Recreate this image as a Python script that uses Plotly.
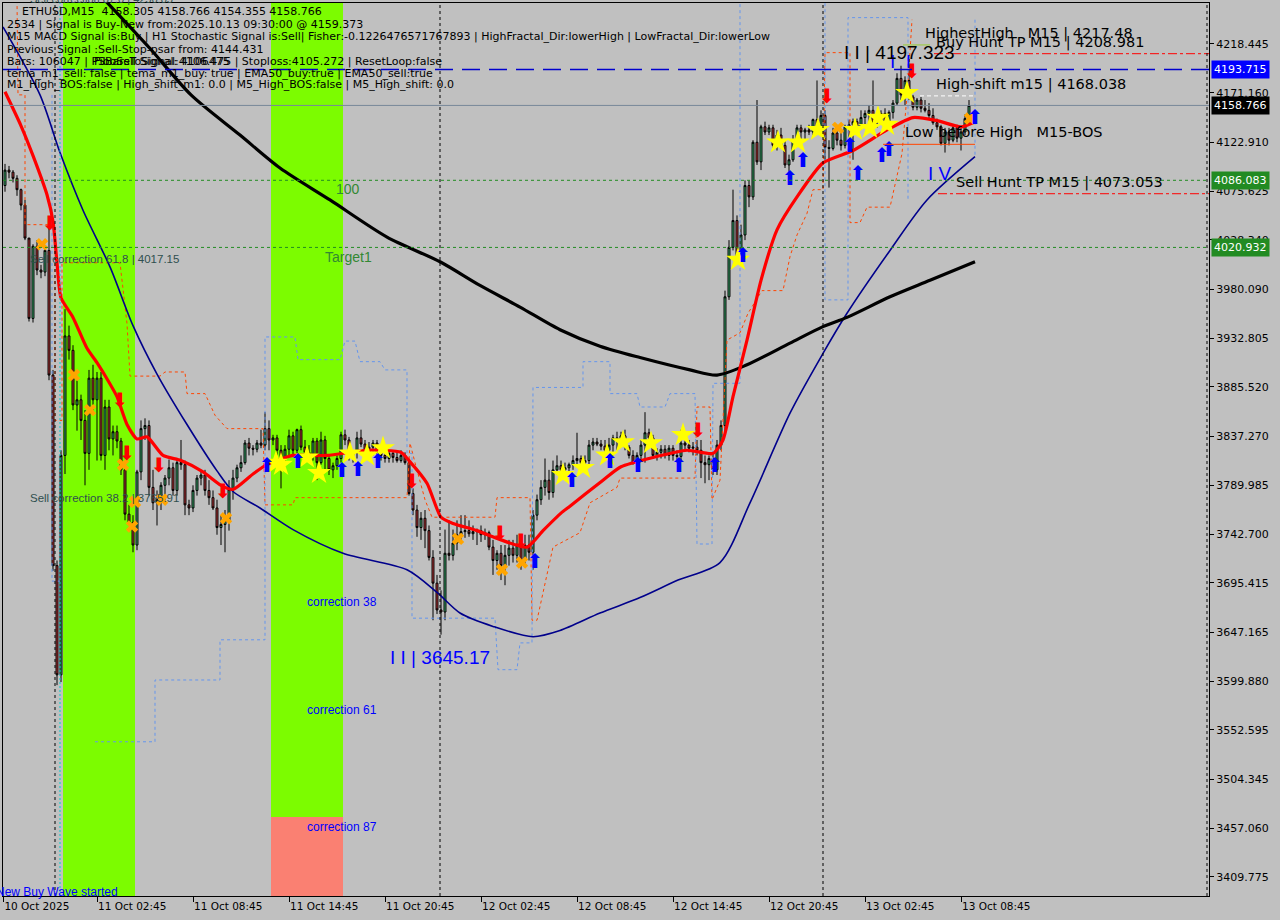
import plotly.graph_objects as go

# ---------------- DATA (15-minute bars, index 0 = 10 Oct 2025 21:00) ----------------
first_open = 4081
highs = [4102, 4100, 4096, 4091, 4078, 4067, 4028, 4024, 4028, 4004, 4023, 4045, 3902, 3717, 3824, 3961, 3945, 3926, 3892, 3878,
         3863, 3902, 3907, 3900, 3900, 3873, 3873, 3848, 3848, 3836, 3809, 3771, 3761, 3805, 3853, 3855, 3853, 3805, 3785, 3793,
         3800, 3815, 3812, 3816, 3834, 3814, 3776, 3790, 3800, 3805, 3805, 3795, 3785, 3776, 3761, 3766, 3795, 3805, 3810, 3819,
         3834, 3836, 3829, 3834, 3844, 3861, 3853,
         3839, 3839, 3829, 3829, 3844, 3842, 3845, 3848, 3834, 3829, 3836, 3836, 3842, 3838, 3819, 3812, 3819, 3842, 3844, 3837,
         3824, 3842, 3844, 3834, 3832, 3834, 3834, 3828, 3825, 3824, 3824, 3824, 3824, 3822, 3814, 3787, 3771, 3764, 3766, 3751,
         3727, 3703, 3688, 3747, 3756, 3747, 3756, 3761, 3761, 3756, 3751, 3748, 3751, 3748, 3746, 3737, 3727, 3732, 3732, 3737,
         3737, 3742, 3737, 3742, 3742, 3766, 3781, 3795, 3816, 3805, 3814, 3819,
         3814, 3812, 3812, 3819, 3841, 3819, 3819, 3834, 3836, 3836, 3834, 3834, 3836, 3839, 3842, 3842, 3844, 3829, 3824, 3822,
         3834, 3861, 3845, 3839, 3826, 3829, 3829, 3829, 3829, 3824, 3844, 3836, 3834, 3832, 3834, 3834, 3819, 3819, 3822, 3834,
         3853,
         3979, 4028, 4077, 4052, 4043, 4086, 4086, 4125, 4164, 4140, 4143, 4140, 4140, 4135, 4137, 4125, 4111, 4130, 4140, 4140,
         4137, 4140, 4146, 4183, 4154, 4154, 4125, 4137, 4137, 4132, 4140, 4145, 4146, 4146, 4154, 4154, 4159, 4183, 4149, 4154,
         4156, 4154, 4164, 4190, 4197.3, 4187, 4193, 4169, 4166, 4167, 4164, 4161, 4156, 4146, 4140, 4137, 4137, 4140, 4140, 4137,
         4150, 4164]
lows = [4075, 4088, 4084, 4071, 4057, 4028, 3949, 3948, 3994, 3991, 3993, 3892, 3707, 3596, 3599, 3801, 3912, 3863, 3843, 3834,
        3790, 3805, 3863, 3814, 3814, 3805, 3824, 3819, 3826, 3800, 3756, 3751, 3725, 3727, 3795, 3834, 3780, 3766, 3751, 3766,
        3776, 3790, 3780, 3780, 3805, 3761, 3761, 3764, 3780, 3790, 3780, 3771, 3766, 3742, 3732, 3725, 3746, 3776, 3793, 3803,
        3810, 3819, 3819, 3822, 3826, 3824, 3824,
        3829, 3819, 3787, 3812, 3819, 3819, 3819, 3824, 3814, 3816, 3814, 3795, 3810, 3805, 3800, 3797, 3805, 3812, 3829, 3814,
        3812, 3816, 3827, 3814, 3816, 3819, 3816, 3814, 3812, 3812, 3812, 3812, 3812, 3810, 3780, 3761, 3740, 3737, 3729, 3717,
        3659, 3665, 3645, 3659, 3717, 3717, 3727, 3737, 3739, 3740, 3737, 3732, 3735, 3737, 3727, 3703, 3708, 3698, 3693, 3712,
        3715, 3715, 3708, 3712, 3717, 3708, 3756, 3771, 3780, 3776, 3778, 3800,
        3800, 3797, 3803, 3805, 3810, 3805, 3809, 3810, 3824, 3828, 3824, 3819, 3819, 3819, 3824, 3829, 3824, 3816, 3810, 3810,
        3814, 3812, 3829, 3816, 3814, 3816, 3816, 3814, 3814, 3812, 3814, 3824, 3822, 3819, 3819, 3797, 3792, 3795, 3800, 3800,
        3824,
        3839, 3970, 4018, 4009, 4004, 4028, 4060, 4067, 4101, 4096, 4130, 4130, 4117, 4115, 4117, 4098, 4093, 4104, 4123, 4125,
        4125, 4130, 4130, 4135, 4135, 4106, 4079, 4115, 4120, 4115, 4117, 4125, 4106, 4130, 4135, 4140, 4142, 4137, 4137, 4140,
        4137, 4140, 4146, 4159, 4164, 4159, 4164, 4154, 4154, 4152, 4152, 4146, 4140, 4135, 4120, 4113, 4120, 4123, 4123, 4115,
        4130, 4142]
closes = [4096, 4094, 4088, 4077, 4062, 4030, 3952, 4022, 3999, 3997, 4018, 3897, 3712, 3606, 3819, 3935, 3921, 3868, 3873, 3853,
          3821, 3894, 3873, 3894, 3819, 3866, 3835, 3842, 3833, 3805, 3762, 3754, 3732, 3803, 3845, 3848, 3788, 3773, 3776, 3790,
          3797, 3807, 3785, 3812, 3810, 3771, 3768, 3785, 3797, 3800, 3785, 3778, 3768, 3749, 3752, 3756, 3786, 3797, 3807, 3812,
          3831, 3826, 3825, 3831, 3829, 3845, 3834,
          3836, 3824, 3816, 3825, 3838, 3824, 3844, 3827, 3822, 3819, 3833, 3812, 3834, 3816, 3805, 3809, 3816, 3839, 3834, 3819,
          3822, 3836, 3830, 3822, 3827, 3831, 3822, 3819, 3816, 3821, 3817, 3814, 3819, 3812, 3782, 3766, 3749, 3758, 3746, 3720,
          3695, 3669, 3667, 3724, 3722, 3734, 3742, 3745, 3746, 3743, 3745, 3746, 3742, 3744, 3730, 3717, 3724, 3712, 3722, 3729,
          3722, 3732, 3717, 3732, 3725, 3761, 3776, 3788, 3795, 3783, 3805, 3809,
          3805, 3807, 3810, 3814, 3816, 3812, 3814, 3829, 3832, 3830, 3828, 3824, 3829, 3836, 3834, 3838, 3827, 3819, 3812, 3819,
          3829, 3841, 3836, 3819, 3822, 3825, 3819, 3826, 3819, 3818, 3831, 3829, 3826, 3827, 3824, 3812, 3810, 3816, 3805, 3829,
          3848,
          3973, 4021, 4047, 4012, 4033, 4081, 4070, 4123, 4104, 4138, 4133, 4137, 4120, 4130, 4120, 4101, 4106, 4125, 4137, 4133,
          4135, 4133, 4145, 4138, 4149, 4118, 4117, 4132, 4125, 4120, 4138, 4140, 4143, 4137, 4147, 4151, 4154, 4142, 4144, 4151,
          4142, 4152, 4161, 4185, 4169, 4183, 4167, 4157, 4164, 4156, 4154, 4149, 4142, 4138, 4122, 4133, 4125, 4137, 4127, 4133,
          4146, 4158.766]

# moving averages (sampled)
ema200_i = [23.75, 36.25, 46.5, 58.75, 68.75, 81.25, 95.5, 108.75, 118.75, 128.75, 138.75, 148.75, 158.75, 171.25, 178, 185.5,
            196.25, 204.5, 210.5, 221.25, 231.25, 242.5]
ema200_p = [4266, 4214, 4169, 4130, 4098, 4067, 4031, 4007, 3984, 3963, 3941, 3925, 3914, 3902, 3897, 3907, 3928, 3944, 3953,
            3973, 3989, 4007]
ema50_i = [-0.5, 8.75, 13.75, 19.5, 26.25, 32, 38, 45.5, 53, 57, 63.75, 72, 84.5, 100.5, 108, 113.75, 122, 132, 138.75, 148.75,
           158.75, 168.25, 178.75, 186.25, 196.25, 204.5, 210.5, 221.25, 230.5, 242.5]
ema50_p = [4235, 4169, 4113, 4057, 4002, 3945, 3898, 3849, 3804, 3784, 3768, 3747, 3724, 3708, 3686, 3666, 3653, 3643, 3649, 3666,
           3681, 3698, 3715, 3773, 3860, 3918, 3957, 4018, 4067, 4109]
ema20_i = [0, 4, 7, 10.5, 12, 13, 14, 17, 20.5, 23, 26, 28, 30.5, 33, 35.5, 39.5, 44, 49.5, 54, 57, 62, 65.5, 72, 80.5, 90.5, 99,
           101, 105.5, 109, 112, 118, 124, 130.5, 134.5, 139, 141, 149.5, 154, 162, 170.5, 177, 179.5, 182, 185.5, 189, 193,
           198, 204.5, 212, 220.5, 227, 233, 239, 242]
ema20_p = [4172, 4139, 4110, 4072, 4046, 4006, 3972, 3953, 3923, 3909, 3890, 3876, 3849, 3835, 3837, 3819, 3814, 3803, 3790, 3786,
           3801, 3810, 3819, 3819, 3824, 3822, 3814, 3792, 3759, 3753, 3746, 3737, 3730, 3746, 3763, 3769, 3795, 3808, 3817, 3824,
           3821, 3834, 3876, 3931, 3989, 4038, 4070, 4103, 4115, 4135, 4147, 4144, 4138, 4142]

# step envelopes
env_red_i = [3, 3.25, 5, 5, 12.5, 12.5, 14.25, 14.25, 28.75, 30.5, 31.25, 38.75, 40, 45, 45.5, 50, 52.5, 55.5, 64.5, 65, 72, 72.5,
             100.5, 101.25, 102.5, 105, 106.75, 122.5, 123, 131.25, 131.75, 133, 137, 143.75, 146.25, 149.5, 153, 153.75, 172.5,
             173, 176.25, 176.75, 178.75, 180.5, 183.75, 185.75, 189.25, 194.5, 196.25, 198, 200.5, 202, 204.5, 205, 211.25,
             211.25, 213.75, 215.5, 221.25, 224.25, 225.75, 226.75]
env_red_p = [4261, 4169, 4169, 4043, 4043, 3853, 3853, 4006, 4006, 3947, 3896, 3896, 3900, 3900, 3879, 3879, 3858, 3845, 3845, 3771,
             3771, 3778, 3778, 3831, 3812, 3776, 3759, 3759, 3778, 3778, 3659, 3659, 3730, 3744, 3773, 3780, 3788, 3797, 3797, 3866,
             3866, 3776, 3795, 3931, 3938, 3957, 3979, 3979, 4012, 4033, 4054, 4077, 4077, 4210, 4210, 4045, 4045, 4060, 4060, 4112,
             4180, 4242]
env_blue_i = [11.75, 11.75, 13.75, None, 22.5, 37.5, 37.5, 53.75, 53.75, 65, 65, 72.5, 73.25, 83.75, 85, 87.5, 88.75, 93.75, 95,
              100.5, 100.5, 101.75, 101.75, 122.5, 123.25, 128, 128.75, 131.75, 132, 144.5, 144.5, 151.25, 151.25, 158, 158.75,
              165, 166.25, 172.5, 173, 176.75, 177, 183.75, 183.75, None, 205, 205, 210.75, 210.75, 225.75, 225.75, None, 242.5,
              242.5]
env_blue_p = [4169, 3697, 3697, None, 3541, 3541, 3601, 3601, 3640, 3640, 3934, 3934, 3912, 3912, 3930, 3930, 3910, 3910, 3902,
              3902, 3821, 3821, 3661, 3661, 3611, 3611, 3637, 3637, 3885, 3885, 3910, 3910, 3879, 3879, 3866, 3866, 3879, 3879,
              3733, 3733, 3889, 3889, 4261, None, 4258, 3970, 3970, 4244, 4244, 4067, None, 4242, 4109]

# signal markers
star_i = [67.75, 69, 75.5, 78.5, 86.25, 90.5, 94.5, 139.5, 144.5, 150.5, 154.5, 161.5, 169.5, 183.25, 193.25, 198.25, 203.25,
          212.5, 216.25, 218.25, 220.5, 225.5]
star_p = [3812, 3810, 3817, 3802, 3821, 3819, 3826, 3800, 3807, 3819, 3832, 3831, 3839, 4009, 4123, 4123, 4135, 4135, 4137, 4147,
          4140, 4171]
buy_i = [65.5, 73.25, 84.25, 88.25, 93.25, 132.5, 141.75, 151.25, 158.25, 168.5, 177.5, 184.5, 196.25, 199.5, 211.25, 213.25,
         219.25, 221, 242.5]
buy_p = [3808, 3812, 3803, 3804, 3812, 3715, 3793, 3812, 3808, 3808, 3808, 4012, 4086, 4104, 4118, 4091, 4109, 4115, 4146]
sell_i = [11.25, 28.75, 30.5, 38.5, 54.5, 101.75, 123.75, 129, 173.25, 205.5, 226.75]
sell_p = [4043, 3871, 3819, 3808, 3783, 3792, 3742, 3734, 3842, 4166, 4190]
cross_i = [9.25, 17.25, 21.25, 29.5, 31.75, 32.5, 39.25, 55.25, 113.25, 124.25, 129.25, 208.25, 241.25]
cross_p = [4024, 3897, 3863, 3810, 3750, 3774, 3776, 3758, 3738, 3708, 3715, 4137, 4146]

# horizontal levels
level_ema_blue = 4193.715
level_bid = 4158.766
level_green = [4086.083, 4020.932]
level_buy_tp = 4208.981
level_sell_tp = 4073.053
level_highest = 4217.48
level_high_shift = 4168.038
level_low_before = 4121.0
vline_idx = [12.5, 108.75, 204.5, 300.5]
cyan_idx = 13.75

# zones
zone1 = (14.5, 32.5)
zone2 = (66.5, 84.5)
zone2_split = 3468.0

# axis ticks
x_tick_idx = [-0.4, 23, 47, 71, 95, 119, 143, 167, 191, 215, 239]
x_tick_text = ["10 Oct 2025", "11 Oct 02:45", "11 Oct 08:45", "11 Oct 14:45", "11 Oct 20:45", "12 Oct 02:45",
               "12 Oct 08:45", "12 Oct 14:45", "12 Oct 20:45", "13 Oct 02:45", "13 Oct 08:45"]
y_tick_vals = [4218.445, 4171.160, 4122.910, 4075.625, 4028.340, 3980.090, 3932.805, 3885.520, 3837.270, 3789.985,
               3742.700, 3695.415, 3647.165, 3599.880, 3552.595, 3504.345, 3457.060, 3409.775]
y_range = [3391.3, 4258.2]
x_range = [-0.5, 301]

# ---------------- FIGURE ----------------
BG = "#C0C0C0"
opens = [first_open] + closes[:-1]
idx = list(range(len(closes)))

fig = go.Figure()

fig.add_trace(go.Scatter(x=env_red_i, y=env_red_p, mode="lines", connectgaps=False,
                         line=dict(color="#FF4500", width=1, dash="3px,3px"), hoverinfo="skip"))
fig.add_trace(go.Scatter(x=env_blue_i, y=env_blue_p, mode="lines", connectgaps=False,
                         line=dict(color="#6495ED", width=1, dash="3px,3px"), hoverinfo="skip"))

fig.add_trace(go.Candlestick(
    x=idx, open=opens, high=highs, low=lows, close=closes,
    increasing=dict(fillcolor="#3CB371", line=dict(color="black", width=1)),
    decreasing=dict(fillcolor="#C0393B", line=dict(color="black", width=1)),
    whiskerwidth=0, hoverinfo="skip"))

fig.add_trace(go.Scatter(x=ema50_i, y=ema50_p, mode="lines", line=dict(color="#00008B", width=1.6, shape="spline", smoothing=0.8),
                         hoverinfo="skip"))
fig.add_trace(go.Scatter(x=ema200_i, y=ema200_p, mode="lines", line=dict(color="#000000", width=3.2, shape="spline", smoothing=0.8),
                         hoverinfo="skip"))
fig.add_trace(go.Scatter(x=ema20_i, y=ema20_p, mode="lines", line=dict(color="#FF0000", width=3.2, shape="spline", smoothing=0.6),
                         hoverinfo="skip"))

fig.add_trace(go.Scatter(x=cross_i, y=cross_p, mode="markers",
                         marker=dict(symbol="x", size=11, color="#FFA500", line=dict(width=0)), hoverinfo="skip"))
fig.add_trace(go.Scatter(x=star_i, y=star_p, mode="markers",
                         marker=dict(symbol="star", size=18, color="#FFFF00", line=dict(width=0)), hoverinfo="skip"))
fig.add_trace(go.Scatter(x=buy_i, y=buy_p, mode="text", text=["⬆"] * len(buy_i), textposition="middle center",
                         textfont=dict(family="DejaVu Sans", size=20, color="#0000FF"), hoverinfo="skip"))
fig.add_trace(go.Scatter(x=sell_i, y=sell_p, mode="text", text=["⬇"] * len(sell_i), textposition="middle center",
                         textfont=dict(family="DejaVu Sans", size=20, color="#FF0000"), hoverinfo="skip"))

shapes = []
# zones
shapes.append(dict(type="rect", xref="x", yref="paper", x0=zone1[0], x1=zone1[1], y0=0, y1=1,
                   fillcolor="#7CFC00", line=dict(width=0), layer="below"))
shapes.append(dict(type="rect", xref="x", yref="y", x0=zone2[0], x1=zone2[1], y0=zone2_split, y1=y_range[1],
                   fillcolor="#7CFC00", line=dict(width=0), layer="below"))
shapes.append(dict(type="rect", xref="x", yref="y", x0=zone2[0], x1=zone2[1], y0=y_range[0], y1=zone2_split,
                   fillcolor="#FA8072", line=dict(width=0), layer="below"))
# horizontal levels
shapes.append(dict(type="line", xref="paper", yref="y", x0=0, x1=1, y0=level_bid, y1=level_bid,
                   line=dict(color="#778899", width=1)))
shapes.append(dict(type="line", xref="paper", yref="y", x0=0, x1=1, y0=level_ema_blue, y1=level_ema_blue,
                   line=dict(color="#0000CD", width=1.6, dash="18px,9px")))
for lv in level_green:
    shapes.append(dict(type="line", xref="paper", yref="y", x0=0, x1=1, y0=lv, y1=lv,
                       line=dict(color="#228B22", width=1, dash="3px,3px")))
shapes.append(dict(type="line", xref="x", yref="y", x0=232.25, x1=x_range[1], y0=level_buy_tp, y1=level_buy_tp,
                   line=dict(color="#FF0000", width=1, dash="dashdot")))
shapes.append(dict(type="line", xref="x", yref="y", x0=233.25, x1=x_range[1], y0=level_sell_tp, y1=level_sell_tp,
                   line=dict(color="#FF0000", width=1, dash="dashdot")))
shapes.append(dict(type="line", xref="x", yref="y", x0=224.5, x1=231.25, y0=level_highest, y1=level_highest,
                   line=dict(color="#9ACD32", width=1)))
shapes.append(dict(type="line", xref="x", yref="y", x0=228.75, x1=242.5, y0=level_high_shift, y1=level_high_shift,
                   line=dict(color="#FFFFFF", width=1, dash="4px,3px")))
shapes.append(dict(type="line", xref="x", yref="y", x0=219.5, x1=242.5, y0=level_low_before, y1=level_low_before,
                   line=dict(color="#FF4500", width=1)))
for vx in vline_idx:
    shapes.append(dict(type="line", xref="x", yref="paper", x0=vx, x1=vx, y0=0, y1=1,
                       line=dict(color="#000000", width=1, dash="3px,3px")))
shapes.append(dict(type="line", xref="x", yref="paper", x0=cyan_idx, x1=cyan_idx, y0=0, y1=1,
                   line=dict(color="#00CED1", width=1, dash="2px,2px")))

W, H = 1280, 920
ML, MR, MT, MB = 3, 71, 3, 24
PW, PH = W - ML - MR, H - MT - MB


def px(text, x, y, size=10, color="black", family="DejaVu Sans", anchor="left"):
    return dict(xref="paper", yref="paper", x=(x - ML) / PW, y=1 - (y - MT) / PH, xanchor=anchor, yanchor="middle",
                text=text, showarrow=False, font=dict(family=family, size=size, color=color))


def dt(text, i, p, size=12, color="black", family="Liberation Sans", anchor="left"):
    return dict(xref="x", yref="y", x=i, y=p, xanchor=anchor, yanchor="middle", text=text, showarrow=False,
                font=dict(family=family, size=size, color=color))


anns = []
header = [
    ("ETHUSD,M15  4158.305 4158.766 4154.355 4158.766", 20, 11),
    ("2534 | Signal is Buy-New from:2025.10.13 09:30:00 @ 4159.373", 5, 25),
    ("M15 MACD Signal is:Buy | H1 Stochastic Signal is:Sell| Fisher:-0.1226476571767893 | HighFractal_Dir:lowerHigh | LowFractal_Dir:lowerLow", 5, 37),
    ("Previous Signal :Sell-Stop-psar from: 4144.431", 5, 49),
    ("Bars: 106047 | PSBarsToSignal:4106.475 | Stoploss:4105.272 | ResetLoop:false", 5, 61),
    ("FiboSell Signal: 4106475", 92, 61),
    ("tema_m1_sell: false | tema_m1_buy: true | EMA50_buy:true | EMA50_sell:true", 5, 73),
    ("M1_High_BOS:false | High_shift_m1: 0.0 | M5_High_BOS:false | M5_High_shift: 0.0", 5, 85),
]
for t, x, y in header:
    anns.append(px(t, x, y, size=11))
anns.append(px("Sell correction 87.0 | 4256.85", 28, -1, size=11, color="#2F4F4F", family="Liberation Sans"))
anns.append(px("New Buy Wave started", -6, 892, size=12, color="#0000FF", family="Liberation Sans"))

# chart labels
anns.append(dt("100", 85.75, 4078, size=14, color="#338833", anchor="center"))
anns.append(dt("Target1", 85.75, 4012, size=14, color="#338833", anchor="center"))
anns.append(dt("Sell correction 61.8 | 4017.15", 5.75, 4010, size=11.5, color="#2F4F4F"))
anns.append(dt("Sell correction 38.2 | 3765.91", 5.75, 3778, size=11.5, color="#2F4F4F"))
anns.append(dt("correction 38", 84.25, 3677, size=12, color="#0000FF", anchor="center"))
anns.append(dt("correction 61", 84.25, 3572, size=12, color="#0000FF", anchor="center"))
anns.append(dt("correction 87", 84.25, 3458, size=12, color="#0000FF", anchor="center"))
anns.append(dt("I I | 3645.17", 108.75, 3623, size=19, color="#0000FF", anchor="center"))
anns.append(dt("I  I", 223.75, 4201, size=19, color="#0000FF", anchor="center"))
anns.append(dt("I I | 4197.323", 223.5, 4210, size=19, color="#000000", anchor="center"))
anns.append(dt("I V", 233.75, 4093, size=19, color="#0000FF", anchor="center"))
anns.append(dt("HighestHigh   M15 | 4217.48", 229.5, 4229, size=14.5, family="DejaVu Sans"))
anns.append(dt("Buy Hunt TP M15 | 4208.981", 232.25, 4220, size=14.5, family="DejaVu Sans"))
anns.append(dt("High-shift m15 | 4168.038", 232.25, 4179, size=14.5, family="DejaVu Sans"))
anns.append(dt("Low before High   M15-BOS", 224.5, 4133, size=14.5, family="DejaVu Sans"))
anns.append(dt("Sell Hunt TP M15 | 4073.053", 237.25, 4084, size=14.5, family="DejaVu Sans"))

# price boxes on the axis
for val, bg in [(level_ema_blue, "#0000FF"), (level_bid, "#000000"), (level_green[0], "#228B22"),
                (level_green[1], "#228B22")]:
    anns.append(dict(xref="paper", yref="y", x=1, y=val, xanchor="left", yanchor="middle", xshift=2,
                     text=f"{val:.3f}", showarrow=False, bgcolor=bg, borderpad=2,
                     font=dict(family="DejaVu Sans", size=11, color="white")))

fig.update_layout(
    width=W, height=H, margin=dict(l=ML, r=MR, t=MT, b=MB, pad=0),
    paper_bgcolor=BG, plot_bgcolor=BG, showlegend=False, hovermode=False,
    font=dict(family="DejaVu Sans", size=11, color="black"),
    shapes=shapes, annotations=anns,
    xaxis=dict(range=x_range, showgrid=False, zeroline=False, showline=True, linecolor="black", linewidth=1, mirror=True,
               ticks="outside", ticklen=5, tickcolor="black", tickvals=x_tick_idx, ticktext=x_tick_text,
               ticklabelposition="outside right", tickfont=dict(family="DejaVu Sans", size=10.5),
               rangeslider=dict(visible=False), fixedrange=True),
    yaxis=dict(range=y_range, side="right", showgrid=False, zeroline=False, showline=True, linecolor="black", linewidth=1,
               mirror=True, ticks="outside", ticklen=4, tickcolor="black", tickvals=y_tick_vals,
               ticktext=[f"{v:.3f}" for v in y_tick_vals], tickfont=dict(family="DejaVu Sans", size=11), fixedrange=True),
)

fig.write_html("out.html", config={"displayModeBar": False},
               post_script="document.body.style.margin='0px';document.body.style.background='#C0C0C0';")
